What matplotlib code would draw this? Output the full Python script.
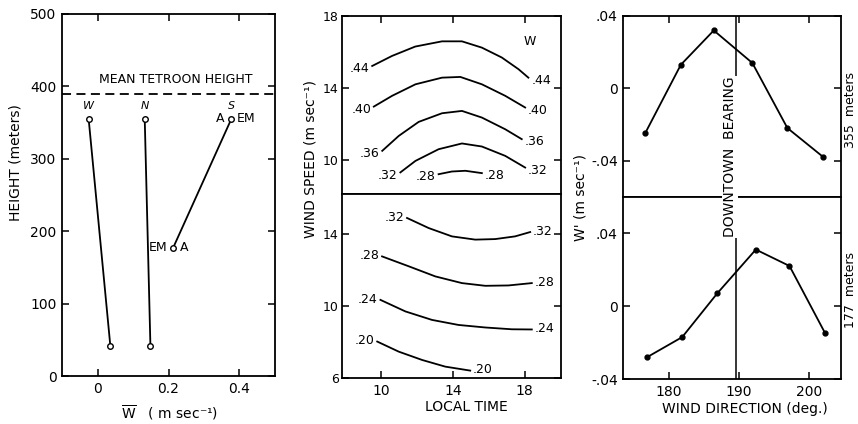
import numpy as np
import matplotlib.pyplot as plt

# ---------------- datos ----------------
# panel 1: perfiles de W medio
heights = [355, 42]
w_west = [-0.025, 0.036]
w_north = [0.133, 0.149]
s_height = [355, 177]
w_south = [0.377, 0.213]
tetroon_height = 389

# panel 2: isolineas de W (hora local vs velocidad del viento)
up_levels = ['.44', '.40', '.36', '.32', '.28']
up_t = [
    [9.5, 10.61, 11.9, 13.39, 14.5, 15.61, 16.72, 17.65, 18.2],
    [9.59, 10.61, 11.91, 13.39, 14.41, 15.61, 16.91, 18.02],
    [10.06, 10.98, 12.09, 13.39, 14.5, 15.61, 16.91, 17.83],
    [11.07, 11.91, 13.2, 14.5, 15.61, 16.91, 18.02],
    [13.2, 13.94, 14.69, 15.61],
]
up_s = [
    [15.22, 15.78, 16.3, 16.59, 16.59, 16.24, 15.69, 15.04, 14.57],
    [12.96, 13.56, 14.2, 14.57, 14.61, 14.2, 13.56, 12.91],
    [10.5, 11.33, 12.11, 12.59, 12.72, 12.35, 11.7, 11.15],
    [9.3, 9.94, 10.59, 10.91, 10.74, 10.22, 9.57],
    [9.2, 9.35, 9.39, 9.26],
]
lo_levels = ['.32', '.28', '.24', '.20']
lo_t = [
    [11.44, 12.65, 13.94, 15.24, 16.35, 17.46, 18.3],
    [10.05, 11.54, 13.02, 14.5, 15.8, 17.09, 18.39],
    [9.96, 11.35, 12.83, 14.31, 15.8, 17.28, 18.39],
    [9.78, 10.98, 12.28, 13.57, 14.96],
]
lo_s = [
    [14.87, 14.31, 13.85, 13.67, 13.7, 13.85, 14.09],
    [12.74, 12.19, 11.63, 11.26, 11.11, 11.13, 11.26],
    [10.33, 9.69, 9.22, 8.94, 8.8, 8.7, 8.69],
    [8.02, 7.46, 7.0, 6.63, 6.41],
]

# panel 3: W' vs direccion del viento
dir_355 = [176.6, 181.7, 186.4, 191.9, 196.9, 202.0]
wp_355 = [-0.025, 0.013, 0.032, 0.014, -0.022, -0.038]
dir_177 = [176.9, 181.9, 186.9, 192.4, 197.2, 202.3]
wp_177 = [-0.028, -0.017, 0.007, 0.031, 0.022, -0.015]
downtown_dir = 189.6

plt.rcParams['font.family'] = 'DejaVu Sans'
plt.rcParams['font.size'] = 10
FS = 10

fig = plt.figure(figsize=(8.58, 4.24), dpi=100)


def estilo(ax, pad=4, size=FS):
    ax.tick_params(direction='in', length=5, width=1.1, top=True, right=True,
                   labelsize=size, pad=pad)
    for sp in ax.spines.values():
        sp.set_linewidth(1.3)


# ---------------- panel 1 ----------------
ax1 = fig.add_axes([0.0723, 0.1132, 0.2482, 0.8538])
ax1.plot(w_west, heights, 'k-', lw=1.3, marker='o', mfc='white', ms=4, mew=1.0)
ax1.plot(w_north, heights, 'k-', lw=1.3, marker='o', mfc='white', ms=4, mew=1.0)
ax1.plot(w_south, s_height, 'k-', lw=1.3, marker='o', mfc='white', ms=4, mew=1.0)
ax1.axhline(tetroon_height, color='k', ls=(0, (5, 3)), lw=1.3)
ax1.text(0.22, 410, 'MEAN TETROON HEIGHT', ha='center', va='center', fontsize=9)
for x, lab in [(w_west[0], 'W'), (w_north[0], 'N'), (w_south[0], 'S')]:
    ax1.annotate(lab, (x, heights[0]), xytext=(0, 6), textcoords='offset points',
                 ha='center', va='bottom', fontsize=8, style='italic')
ax1.annotate('A', (w_south[0], s_height[0]), xytext=(-5, 0), textcoords='offset points',
             ha='right', va='center', fontsize=9)
ax1.annotate('EM', (w_south[0], s_height[0]), xytext=(4, 0), textcoords='offset points',
             ha='left', va='center', fontsize=9)
ax1.annotate('EM', (w_south[1], s_height[1]), xytext=(-4, 0), textcoords='offset points',
             ha='right', va='center', fontsize=9)
ax1.annotate('A', (w_south[1], s_height[1]), xytext=(5, 0), textcoords='offset points',
             ha='left', va='center', fontsize=9)
ax1.set_xlim(-0.1, 0.5)
ax1.set_ylim(0, 500)
ax1.set_xticks([0, 0.2, 0.4])
ax1.set_xticklabels(['0', '0.2', '0.4'])
ax1.set_yticks([0, 100, 200, 300, 400, 500])
estilo(ax1)
fig.text(0.0175, 0.6156, 'HEIGHT (meters)', rotation=90, ha='center', va='center', fontsize=FS)
fig.text(0.198, 0.026, r'$\overline{\rm W}$   ( m sec⁻¹)', ha='center', va='center', fontsize=FS)

# ---------------- panel 2 ----------------
ax2u = fig.add_axes([0.3982, 0.5425, 0.2553, 0.4198])
ax2l = fig.add_axes([0.3982, 0.1085, 0.2553, 0.4340])
for ax, tt, ss, levs, dy in [(ax2u, up_t, up_s, up_levels, -2), (ax2l, lo_t, lo_s, lo_levels, 0.5)]:
    for t, s, lev in zip(tt, ss, levs):
        ax.plot(t, s, 'k-', lw=1.3, solid_joinstyle='round')
        ax.annotate(lev, (t[0], s[0]), xytext=(-2, dy), textcoords='offset points',
                    ha='right', va='center', fontsize=9)
        ax.annotate(lev, (t[-1], s[-1]), xytext=(2, dy), textcoords='offset points',
                    ha='left', va='center', fontsize=9)
ax2u.text(18.26, 16.56, 'W', ha='center', va='center', fontsize=9)
ax2u.set_xlim(7.8, 20)
ax2u.set_ylim(8.1, 18)
ax2u.set_yticks([10, 14, 18])
ax2u.set_xticks([10, 14, 18])
ax2l.set_xlim(7.8, 20)
ax2l.set_ylim(6, 16.2)
ax2l.set_yticks([6, 10, 14])
ax2l.set_xticks([10, 14, 18])
estilo(ax2u, pad=2, size=9)
estilo(ax2l, pad=2, size=9)
ax2l.tick_params(axis='x', pad=4, labelsize=FS)
ax2u.tick_params(labelbottom=False, bottom=False)
ax2l.tick_params(top=False)
fig.text(0.362, 0.625, 'WIND SPEED (m sec⁻¹)', rotation=90, ha='center', va='center', fontsize=FS)
fig.text(0.544, 0.040, 'LOCAL TIME', ha='center', va='center', fontsize=FS)

# ---------------- panel 3 ----------------
ax3u = fig.add_axes([0.7265, 0.5361, 0.2533, 0.4262])
ax3l = fig.add_axes([0.7265, 0.1061, 0.2533, 0.4300])
ax3u.plot(dir_355, wp_355, 'k-', lw=1.3, marker='o', ms=3.5)
ax3l.plot(dir_177, wp_177, 'k-', lw=1.3, marker='o', ms=3.5)
for ax in (ax3u, ax3l):
    ax.axvline(downtown_dir, color='k', lw=1.1)
    ax.set_xlim(173.5, 204.5)
    ax.set_xticks([180, 190, 200])
    ax.set_yticks([-0.04, 0, 0.04])
    ax.set_yticklabels(['-.04', '0', '.04'])
    estilo(ax)
ax3u.set_ylim(-0.06, 0.04)
ax3l.set_ylim(-0.04, 0.06)
ax3u.tick_params(labelbottom=False, bottom=False)
ax3l.tick_params(top=False)
fig.text(0.851, 0.63, 'DOWNTOWN  BEARING', rotation=90, ha='center', va='center', fontsize=10,
         bbox=dict(facecolor='white', edgecolor='none', pad=0.5))
fig.text(0.676, 0.535, "W' (m sec⁻¹)", rotation=90, ha='center', va='center', fontsize=FS)
fig.text(0.868, 0.036, 'WIND DIRECTION (deg.)', ha='center', va='center', fontsize=FS)
fig.text(0.9915, 0.741, '355  meters', rotation=90, ha='center', va='center', fontsize=9)
fig.text(0.9915, 0.316, '177  meters', rotation=90, ha='center', va='center', fontsize=9)

fig.savefig('out.png', dpi=100, facecolor='white')
